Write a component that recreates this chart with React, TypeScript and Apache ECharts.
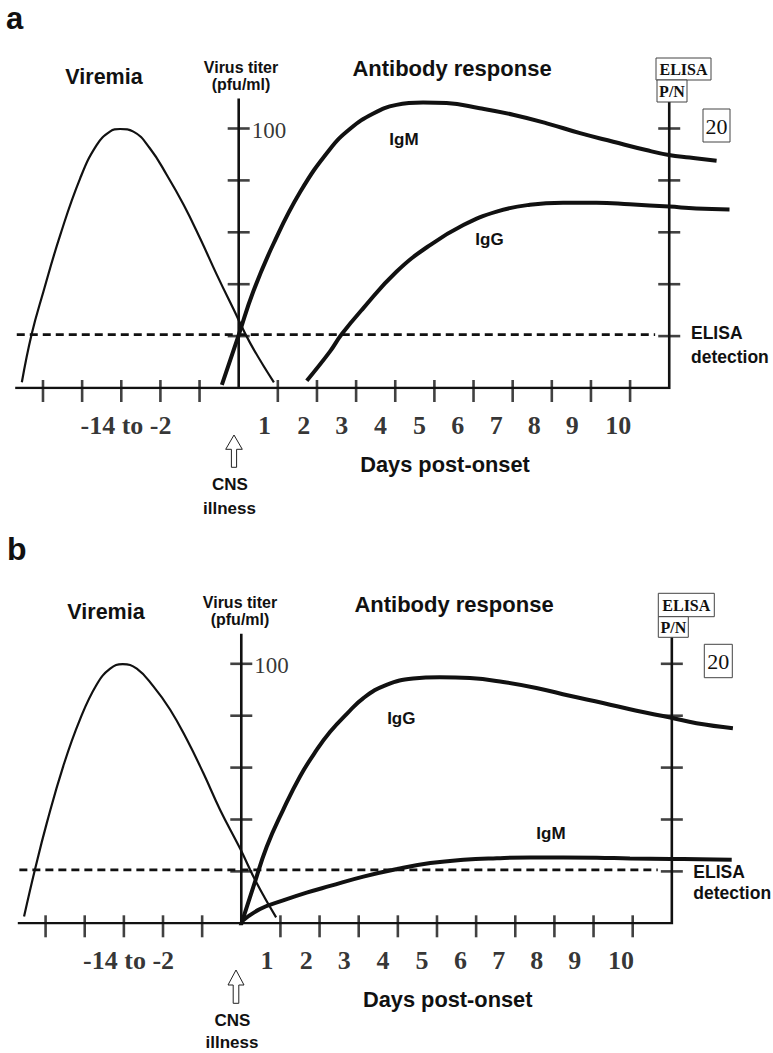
import React, { useEffect, useRef } from 'react';
import * as echarts from 'echarts';

const SANS = '"Liberation Sans", Arial, Helvetica, sans-serif';
const SERIF = '"Liberation Serif", "Times New Roman", serif';
const INK = '#111';

// x unit: days relative to CNS onset (tick spacing); y unit: titer scale (ticks 20..100)
const xTickValues = [-5, -4, -3, -2, -1, 1, 2, 3, 4, 5, 6, 7, 8, 9, 10];
const yTickValues = [20, 40, 60, 80, 100];
const dayLabels = ['1', '2', '3', '4', '5', '6', '7', '8', '9', '10'];
const dayLabelPos = [0.66, 1.66, 2.63, 3.62, 4.62, 5.6, 6.58, 7.55, 8.52, 9.7];
const preOnsetLabel = '-14 to -2';
const preOnsetPos = -2.88;
const elisaCutoff = 20.6;
const axisTop = 111.6;

// Panel a
const viremiaA: [number, number][] = [
  [-5.54, 2.2], [-5.29, 20.7], [-4.99, 37.1], [-4.56, 58.9], [-4.05, 80.8], [-3.63, 93.6],
  [-3.29, 98.8], [-3.03, 99.8], [-2.69, 98.8], [-2.27, 92.4], [-1.84, 82.2], [-1.41, 70.7],
  [-0.99, 57.8], [-0.56, 43.7], [-0.14, 30.6], [0.29, 17.4], [0.9, 2.2],
];
const igmA: [number, number][] = [
  [-0.43, 1.2], [0, 20.4], [0.37, 37.1], [0.88, 55.3], [1.57, 75.5], [2.33, 92.0], [2.84, 99.8],
  [3.44, 105.8], [4.03, 109.1], [4.71, 110.0], [5.31, 109.8], [6.16, 107.8], [7.01, 105.3],
  [7.87, 102.0], [8.72, 98.2], [9.57, 94.9], [10.41, 91.7], [10.99, 89.8], [11.52, 88.8], [12.21, 87.6],
];
const iggA: [number, number][] = [
  [1.74, 2.8], [2.33, 14.0], [2.63, 20.7], [3.18, 30.7], [4.03, 44.8], [4.89, 55.1], [5.74, 62.8],
  [6.59, 68.0], [7.44, 70.6], [8.29, 71.4], [9.14, 71.4], [9.99, 70.8], [11.0, 69.9], [11.69, 69.2], [12.54, 68.8],
];

// Panel b
const viremiaB: [number, number][] = [
  [-5.55, 2.6], [-5.27, 20.8], [-4.97, 38.6], [-4.55, 60.5], [-4.12, 78.6], [-3.69, 92.1],
  [-3.35, 98.1], [-3.03, 99.9], [-2.67, 98.1], [-2.25, 91.4], [-1.82, 82.4], [-1.39, 70.8],
  [-0.97, 57.9], [-0.54, 43.7], [-0.03, 28.8], [0.39, 15.6], [0.89, 2.3],
];
const iggB: [number, number][] = [
  [-0.02, -1.2], [0.31, 14.1], [0.65, 29.5], [1.07, 43.7], [1.5, 56.6], [1.93, 66.9], [2.27, 73.8],
  [2.69, 80.6], [3.12, 86.8], [3.71, 91.9], [4.39, 94.3], [5.07, 94.8], [5.84, 94.5], [6.69, 93.0],
  [7.54, 90.7], [8.39, 87.7], [9.24, 84.9], [10.1, 81.9], [10.96, 79.3], [11.63, 77.1], [12.56, 75.2],
];
const igmB: [number, number][] = [
  [0, 0.6], [0.48, 5.5], [1.07, 8.8], [1.67, 11.8], [2.27, 14.4], [3.12, 18.0], [3.98, 20.9],
  [4.83, 23.2], [5.68, 24.5], [6.53, 25.1], [7.38, 25.4], [8.23, 25.4], [9.08, 25.3], [9.93, 25.0],
  [10.97, 24.8], [12.53, 24.5],
];

const X_MIN = -5.71;
const X_MAX = 12.8;
const X_AXIS_END = 11;
const PX_PER_DAY = 39.14;

function panelSeries(gi: number, viremia: [number, number][], curves: [number, number][][]) {
  const base = { xAxisIndex: gi, yAxisIndex: gi, silent: true, animation: false };
  const lineBase = { ...base, type: 'line', symbol: 'none', showSymbol: false };
  const s: any[] = [
    { ...lineBase, data: [[X_MIN, 0], [X_AXIS_END, 0], [X_AXIS_END, axisTop]], lineStyle: { color: INK, width: 2.6, join: 'miter' }, z: 3 },
    { ...lineBase, data: [[0, 0], [0, axisTop]], lineStyle: { color: INK, width: 2.6 }, z: 3 },
    {
      ...base, type: 'scatter', data: xTickValues.map((x) => [x, 0]), symbol: 'rect',
      symbolSize: [2.6, 22], symbolOffset: [0, 3], itemStyle: { color: INK }, z: 3,
    },
    {
      ...base, type: 'scatter', data: yTickValues.flatMap((v) => [[0, v], [X_AXIS_END, v]]), symbol: 'rect',
      symbolSize: [22, 2.6], itemStyle: { color: INK }, z: 3,
    },
    {
      ...lineBase, data: [[X_MIN + 0.04, elisaCutoff], [10.64, elisaCutoff]],
      lineStyle: { color: INK, width: 2.8, type: [8, 5] }, z: 2,
    },
    { ...lineBase, data: viremia, smooth: 0.45, lineStyle: { color: INK, width: 2.2, cap: 'butt' }, z: 4 },
    ...curves.map((c) => ({ ...lineBase, data: c, smooth: 0.45, lineStyle: { color: INK, width: 4, cap: 'butt' }, z: 4 })),
    {
      ...base, type: 'scatter', symbolSize: 1, itemStyle: { color: 'rgba(0,0,0,0)' },
      data: [
        ...dayLabels.map((name, i) => ({ name, value: [dayLabelPos[i], 0] })),
        { name: preOnsetLabel, value: [preOnsetPos, 0] },
      ],
      label: {
        show: true, position: 'inside', offset: [0, 37], formatter: '{b}', color: '#000',
        fontFamily: SERIF, fontWeight: 'bold', fontSize: 26, align: 'center', verticalAlign: 'middle',
      },
    },
    {
      ...base, type: 'scatter', symbolSize: 1, itemStyle: { color: 'rgba(0,0,0,0)' },
      data: [{ name: '100', value: [0, 100] }],
      label: {
        show: true, position: 'inside', offset: [13, 2], formatter: '{b}', color: '#000',
        fontFamily: SERIF, fontSize: 23, align: 'left', verticalAlign: 'middle',
      },
    },
  ];
  return s;
}

function txt(text: string, x: number, y: number, size: number, opts: any = {}) {
  return {
    type: 'text', silent: true, z: 10,
    style: {
      text, x, y, fill: INK, font: `${opts.weight || 'bold'} ${size}px ${opts.family || SANS}`,
      textAlign: opts.align || 'center', textVerticalAlign: 'middle',
    },
  };
}

function box(x: number, y: number, w: number, h: number) {
  return {
    type: 'rect', silent: true, z: 9,
    shape: { x, y, width: w, height: h },
    style: { fill: '#fff', stroke: '#444', lineWidth: 1 },
  };
}

function arrow(tipX: number, tipY: number, baseY: number, endY: number, half: number, shaftHalf: number) {
  return {
    type: 'polygon', silent: true, z: 10,
    shape: {
      points: [
        [tipX, tipY], [tipX + half, baseY], [tipX + shaftHalf, baseY], [tipX + shaftHalf, endY],
        [tipX - shaftHalf, endY], [tipX - shaftHalf, baseY], [tipX - half, baseY],
      ],
    },
    style: { fill: '#fff', stroke: '#222', lineWidth: 1 },
  };
}

export default function App() {
  const ref = useRef<HTMLDivElement>(null);
  useEffect(() => {
    if (!ref.current) return;
    const chart = echarts.init(ref.current, undefined, { renderer: 'svg' });
    const graphics: any[] = [
      // panel a
      txt('a', 6, 18.5, 31, { align: 'left' }),
      txt('Viremia', 104, 76.5, 21.5),
      txt('Virus titer', 241, 67, 16),
      txt('(pfu/ml)', 241, 84.5, 16),
      txt('Antibody response', 452, 68, 22),
      txt('IgM', 404, 139, 17),
      txt('IgG', 489.5, 239.7, 17),
      txt('ELISA', 691, 333.3, 17.5, { align: 'left' }),
      txt('detection', 691, 356.7, 17.5, { align: 'left' }),
      txt('Days post-onset', 445, 464.3, 21.8),
      txt('CNS', 230, 484.7, 17),
      txt('illness', 229.5, 508.3, 17),
      arrow(234, 435, 449.3, 467.3, 8.3, 2.6),
      box(656, 58, 55, 22),
      txt('ELISA', 683.5, 69.5, 16, { family: SERIF }),
      box(657, 80, 30, 22),
      txt('P/N', 672, 91, 16, { family: SERIF }),
      box(703, 109, 27, 33),
      txt('20', 716.5, 126, 22, { family: SERIF, weight: 'normal' }),
      // panel b
      txt('b', 7, 549, 32, { align: 'left' }),
      txt('Viremia', 106, 611.5, 21.5),
      txt('Virus titer', 240, 602, 16),
      txt('(pfu/ml)', 240, 619.5, 16),
      txt('Antibody response', 454, 604.7, 22),
      txt('IgG', 401.3, 718, 17),
      txt('IgM', 551, 833.3, 17),
      txt('ELISA', 693.3, 872.3, 17.5, { align: 'left' }),
      txt('detection', 693.3, 892.5, 17.5, { align: 'left' }),
      txt('Days post-onset', 447.7, 999.3, 21.8),
      txt('CNS', 232.5, 1020, 17),
      txt('illness', 232, 1042.3, 17),
      arrow(236, 970, 985, 1003.3, 8, 2.8),
      box(658.3, 593.3, 56, 23.4),
      txt('ELISA', 686.3, 605.5, 16, { family: SERIF }),
      box(658.3, 616.7, 30, 20.6),
      txt('P/N', 673.3, 627.3, 16, { family: SERIF }),
      box(704.3, 644.3, 28, 33.4),
      txt('20', 718.3, 661.5, 22, { family: SERIF, weight: 'normal' }),
    ];
    const gridWidth = PX_PER_DAY * (X_MAX - X_MIN);
    chart.setOption({
      animation: false,
      backgroundColor: '#fff',
      grid: [
        { left: 15.2, top: 76.6, width: gridWidth, height: 311.4, outerBoundsMode: 'none', containLabel: false },
        { left: 17.8, top: 611.9, width: gridWidth, height: 311.4, outerBoundsMode: 'none', containLabel: false },
      ],
      xAxis: [
        { type: 'value', gridIndex: 0, min: X_MIN, max: X_MAX, show: false },
        { type: 'value', gridIndex: 1, min: X_MIN, max: X_MAX, show: false },
      ],
      yAxis: [
        { type: 'value', gridIndex: 0, min: 0, max: 120, show: false },
        { type: 'value', gridIndex: 1, min: 0, max: 120, show: false },
      ],
      series: [
        ...panelSeries(0, viremiaA, [igmA, iggA]),
        ...panelSeries(1, viremiaB, [iggB, igmB]),
      ],
      graphic: graphics,
    });
    return () => chart.dispose();
  }, []);
  return (
    <div
      ref={ref}
      style={{ position: 'absolute', left: 0, top: 0, width: 773, height: 1053, background: '#fff' }}
    />
  );
}
